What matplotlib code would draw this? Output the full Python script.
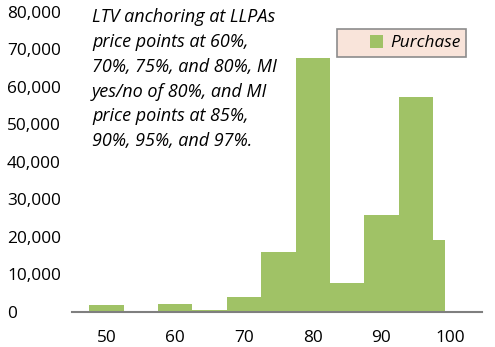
import matplotlib
matplotlib.use("Agg")
import matplotlib.pyplot as plt
from matplotlib.patches import Rectangle

plt.rcParams["font.family"] = ["Open Sans", "DejaVu Sans"]

# LTV bins (centre of 5-point bucket) and purchase loan counts
ltv_left = [47.5, 52.5, 57.5, 62.5, 67.5, 72.5, 77.5, 82.5, 87.5, 92.5, 97.5]
ltv_width = [5, 5, 5, 5, 5, 5, 5, 5, 5, 5, 1.8]
purchase = [1800, 0, 2200, 500, 3900, 15900, 67700, 7800, 25800, 57400, 19200]

yticks = [0, 10000, 20000, 30000, 40000, 50000, 60000, 70000, 80000]
xticks = [50, 60, 70, 80, 90, 100]

note = ("LTV anchoring at LLPAs\nprice points at 60%,\n70%, 75%, and 80%, MI\n"
        "yes/no of 80%, and MI\nprice points at 85%,\n90%, 95%, and 97%.")

green = "#a0c266"

fig = plt.figure(figsize=(4.95, 3.47), dpi=100)
ax = fig.add_axes([0.1455, 0.1009, 0.828, 0.8646])

bars = ax.bar(ltv_left, purchase, width=ltv_width, align="edge",
              color=green, linewidth=0, label="Purchase")

ax.set_xlim(45.0, 104.6)
ax.set_ylim(0, 80000)
ax.set_xticks(xticks)
ax.set_yticks(yticks)
ax.set_yticklabels([f"{v:,}" for v in yticks])

for s in ["top", "right", "left"]:
    ax.spines[s].set_visible(False)
ax.spines["bottom"].set_color("#7f7f7f")
ax.spines["bottom"].set_linewidth(1.5)

ax.tick_params(axis="both", length=0, labelsize=12.4, colors="black")
ax.tick_params(axis="x", pad=13)
ax.tick_params(axis="y", pad=46.8)
for lab in ax.get_yticklabels():
    lab.set_horizontalalignment("left")

# legend: frame drawn separately so the handle sits right of centre
ax.add_patch(Rectangle((0.6463, 0.85), 0.3146, 0.0933, transform=ax.transAxes,
                       facecolor="#f9e4da", edgecolor="#8c8c8c", linewidth=1.2,
                       clip_on=False, zorder=3))
leg = ax.legend(loc="center left", bbox_to_anchor=(0.7268, 0.8967), frameon=False,
                borderpad=0, borderaxespad=0, handlelength=0.76, handleheight=0.76,
                handletextpad=0.4, prop={"size": 12.4, "style": "italic"})
leg.set_zorder(4)

fig.text(0.186, 0.977, note, ha="left", va="top", fontsize=13.0,
         style="italic", linespacing=1.49)

fig.savefig("out.png", dpi=100)
